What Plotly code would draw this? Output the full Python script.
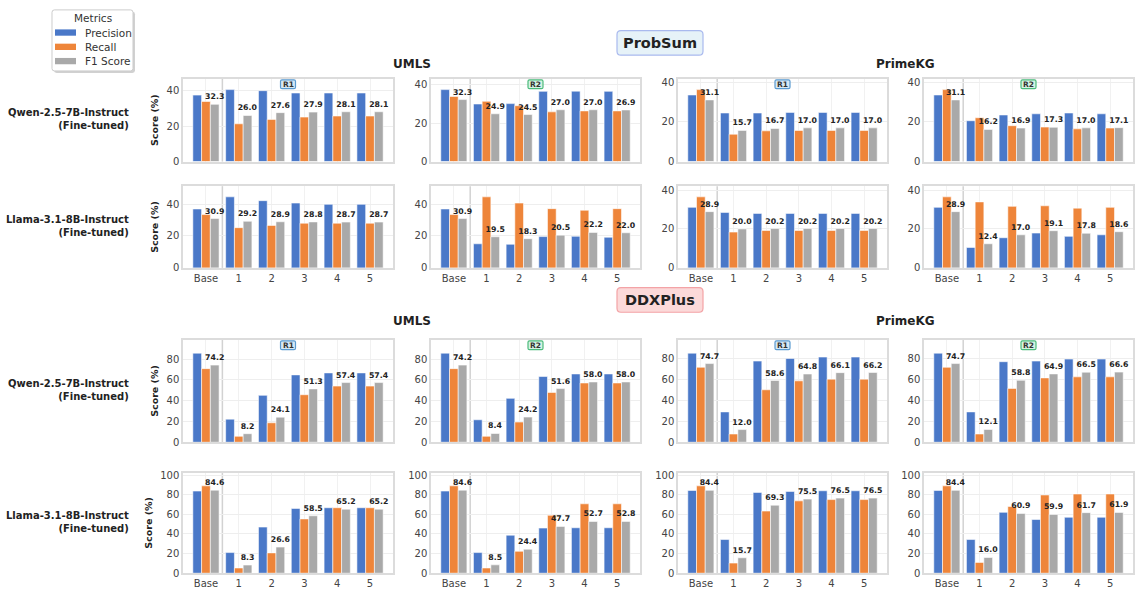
import plotly.graph_objects as go

W, H = 1138, 592
FONT = "DejaVu Sans"

groups = ["Base", "1", "2", "3", "4", "5"]
metrics = ["Precision", "Recall", "F1 Score"]
colors = ["#4a78c8", "#ee853a", "#a9a9a9"]

# ---------------- ProbSum ----------------
# Qwen-2.5-7B-Instruct, UMLS
qwen_ps_umls_r1_precision = [37.5, 40.6, 40.0, 38.7, 38.7, 38.7]
qwen_ps_umls_r1_recall = [33.9, 21.3, 23.8, 25.1, 25.7, 25.7]
qwen_ps_umls_r1_f1 = [32.3, 26.0, 27.6, 27.9, 28.1, 28.1]
qwen_ps_umls_r2_precision = [37.5, 30.0, 30.2, 36.6, 36.7, 36.6]
qwen_ps_umls_r2_recall = [33.9, 31.4, 29.1, 25.9, 26.4, 26.4]
qwen_ps_umls_r2_f1 = [32.3, 24.9, 24.5, 27.0, 27.0, 26.9]
# Qwen-2.5-7B-Instruct, PrimeKG
qwen_ps_pkg_r1_precision = [33.6, 24.5, 24.5, 24.8, 24.8, 24.8]
qwen_ps_pkg_r1_recall = [36.3, 13.8, 15.5, 15.7, 15.7, 15.7]
qwen_ps_pkg_r1_f1 = [31.1, 15.7, 16.7, 17.0, 17.0, 17.0]
qwen_ps_pkg_r2_precision = [33.6, 20.6, 23.5, 24.1, 24.5, 24.1]
qwen_ps_pkg_r2_recall = [36.3, 22.1, 18.1, 17.4, 16.5, 16.9]
qwen_ps_pkg_r2_f1 = [31.1, 16.2, 16.9, 17.3, 17.0, 17.1]
# Llama-3.1-8B-Instruct, UMLS
llama_ps_umls_r1_precision = [36.9, 44.5, 42.1, 40.6, 39.8, 39.8]
llama_ps_umls_r1_recall = [33.4, 25.2, 26.6, 28.0, 28.0, 28.0]
llama_ps_umls_r1_f1 = [30.9, 29.2, 28.9, 28.8, 28.7, 28.7]
llama_ps_umls_r2_precision = [36.9, 15.1, 14.8, 19.6, 19.8, 19.2]
llama_ps_umls_r2_recall = [33.4, 44.5, 40.6, 37.1, 36.1, 37.1]
llama_ps_umls_r2_f1 = [30.9, 19.5, 18.3, 20.5, 22.2, 22.0]
# Llama-3.1-8B-Instruct, PrimeKG
llama_ps_pkg_r1_precision = [31.1, 28.5, 28.0, 28.0, 28.0, 28.0]
llama_ps_pkg_r1_recall = [36.5, 18.4, 19.2, 19.2, 19.2, 19.2]
llama_ps_pkg_r1_f1 = [28.9, 20.0, 20.2, 20.2, 20.2, 20.2]
llama_ps_pkg_r2_precision = [31.1, 10.5, 15.5, 17.9, 16.2, 17.0]
llama_ps_pkg_r2_recall = [36.5, 33.9, 31.6, 31.9, 30.7, 31.1]
llama_ps_pkg_r2_f1 = [28.9, 12.4, 17.0, 19.1, 17.8, 18.6]

# ---------------- DDXPlus ----------------
qwen_dx_umls_r1_precision = [85.7, 22.2, 45.1, 64.8, 66.7, 66.7]
qwen_dx_umls_r1_recall = [70.8, 5.7, 18.7, 45.7, 54.0, 54.0]
qwen_dx_umls_r1_f1 = [74.2, 8.2, 24.1, 51.3, 57.4, 57.4]
qwen_dx_umls_r2_precision = [85.7, 21.6, 42.2, 63.2, 65.7, 65.7]
qwen_dx_umls_r2_recall = [70.8, 5.7, 19.4, 47.9, 57.0, 57.0]
qwen_dx_umls_r2_f1 = [74.2, 8.4, 24.2, 51.6, 58.0, 58.0]
qwen_dx_pkg_r1_precision = [84.6, 28.8, 77.1, 79.6, 80.9, 80.9]
qwen_dx_pkg_r1_recall = [71.2, 7.8, 49.8, 58.3, 59.9, 59.9]
qwen_dx_pkg_r1_f1 = [74.7, 12.0, 58.6, 64.8, 66.1, 66.2]
qwen_dx_pkg_r2_precision = [84.6, 28.8, 76.5, 77.1, 79.0, 79.0]
qwen_dx_pkg_r2_recall = [71.2, 7.8, 51.1, 61.1, 62.1, 62.1]
qwen_dx_pkg_r2_f1 = [74.7, 12.1, 58.8, 64.9, 66.5, 66.6]
llama_dx_umls_r1_precision = [83.7, 21.0, 47.0, 66.0, 66.7, 66.7]
llama_dx_umls_r1_recall = [89.0, 5.3, 20.7, 55.3, 66.7, 66.7]
llama_dx_umls_r1_f1 = [84.6, 8.3, 26.6, 58.5, 65.2, 65.2]
llama_dx_umls_r2_precision = [83.7, 21.0, 38.7, 46.0, 46.3, 46.3]
llama_dx_umls_r2_recall = [89.0, 5.3, 22.3, 59.0, 70.7, 70.7]
llama_dx_umls_r2_f1 = [84.6, 8.5, 24.4, 47.7, 52.7, 52.8]
llama_dx_pkg_r1_precision = [84.3, 34.3, 82.3, 83.3, 84.0, 84.0]
llama_dx_pkg_r1_recall = [89.0, 10.3, 63.3, 73.7, 75.0, 75.0]
llama_dx_pkg_r1_f1 = [84.4, 15.7, 69.3, 75.5, 76.5, 76.5]
llama_dx_pkg_r2_precision = [84.3, 34.3, 62.0, 54.7, 57.0, 57.0]
llama_dx_pkg_r2_recall = [89.0, 11.0, 68.0, 79.7, 80.7, 80.7]
llama_dx_pkg_r2_f1 = [84.4, 16.0, 60.9, 59.9, 61.7, 61.9]

# grid of panels: rows top-to-bottom, columns left-to-right
panel_rows = [
    [
        (qwen_ps_umls_r1_precision, qwen_ps_umls_r1_recall, qwen_ps_umls_r1_f1, "R1"),
        (qwen_ps_umls_r2_precision, qwen_ps_umls_r2_recall, qwen_ps_umls_r2_f1, "R2"),
        (qwen_ps_pkg_r1_precision, qwen_ps_pkg_r1_recall, qwen_ps_pkg_r1_f1, "R1"),
        (qwen_ps_pkg_r2_precision, qwen_ps_pkg_r2_recall, qwen_ps_pkg_r2_f1, "R2"),
    ],
    [
        (llama_ps_umls_r1_precision, llama_ps_umls_r1_recall, llama_ps_umls_r1_f1, None),
        (llama_ps_umls_r2_precision, llama_ps_umls_r2_recall, llama_ps_umls_r2_f1, None),
        (llama_ps_pkg_r1_precision, llama_ps_pkg_r1_recall, llama_ps_pkg_r1_f1, None),
        (llama_ps_pkg_r2_precision, llama_ps_pkg_r2_recall, llama_ps_pkg_r2_f1, None),
    ],
    [
        (qwen_dx_umls_r1_precision, qwen_dx_umls_r1_recall, qwen_dx_umls_r1_f1, "R1"),
        (qwen_dx_umls_r2_precision, qwen_dx_umls_r2_recall, qwen_dx_umls_r2_f1, "R2"),
        (qwen_dx_pkg_r1_precision, qwen_dx_pkg_r1_recall, qwen_dx_pkg_r1_f1, "R1"),
        (qwen_dx_pkg_r2_precision, qwen_dx_pkg_r2_recall, qwen_dx_pkg_r2_f1, "R2"),
    ],
    [
        (llama_dx_umls_r1_precision, llama_dx_umls_r1_recall, llama_dx_umls_r1_f1, None),
        (llama_dx_umls_r2_precision, llama_dx_umls_r2_recall, llama_dx_umls_r2_f1, None),
        (llama_dx_pkg_r1_precision, llama_dx_pkg_r1_recall, llama_dx_pkg_r1_f1, None),
        (llama_dx_pkg_r2_precision, llama_dx_pkg_r2_recall, llama_dx_pkg_r2_f1, None),
    ],
]
row_labels = [
    "Qwen-2.5-7B-Instruct<br>(Fine-tuned)",
    "Llama-3.1-8B-Instruct<br>(Fine-tuned)",
    "Qwen-2.5-7B-Instruct<br>(Fine-tuned)",
    "Llama-3.1-8B-Instruct<br>(Fine-tuned)",
]

# panel boxes in pixels
col_px = [(183, 393), (431, 640), (678, 887), (924, 1133)]
row_px = [(77, 161), (186, 269), (342, 446), (477, 579)]


def px(x):
    return x / W


def py(y):
    return 1 - y / H


def rrect(x0, y0, x1, y1, r):
    pts = [
        ("M", x0 + r, y0), ("L", x1 - r, y0), ("Q", x1, y0, x1, y0 + r),
        ("L", x1, y1 - r), ("Q", x1, y1, x1 - r, y1), ("L", x0 + r, y1),
        ("Q", x0, y1, x0, y1 - r), ("L", x0, y0 + r), ("Q", x0, y0, x0 + r, y0),
    ]
    out = []
    for p in pts:
        cmd = p[0]
        coords = p[1:]
        s = cmd
        for i in range(0, len(coords), 2):
            s += f" {px(coords[i]):.5f},{py(coords[i + 1]):.5f}"
        out.append(s)
    return " ".join(out) + " Z"


fig = go.Figure()
layout = dict(
    width=W, height=H,
    margin=dict(l=0, r=0, t=0, b=0),
    paper_bgcolor="white", plot_bgcolor="white",
    barmode="group", bargap=0.2, bargroupgap=0,
    showlegend=False,
    font=dict(family=FONT, color="#333333"),
)
shapes = []
annotations = []
positions = list(range(len(groups)))

for r, row in enumerate(panel_rows):
    for c, (prec, rec, f1, badge) in enumerate(row):
        k = r * 4 + c + 1
        xs = "x" if k == 1 else f"x{k}"
        ys = "y" if k == 1 else f"y{k}"
        for m, vals in enumerate([prec, rec, f1]):
            bar = dict(
                x=positions, y=vals, name=metrics[m], xaxis=xs, yaxis=ys,
                marker=dict(color=colors[m], line=dict(color="rgba(255,255,255,0.7)", width=0.8)),
                showlegend=False, hoverinfo="skip",
            )
            if m == 2:
                bar.update(
                    text=[f"{v:.1f}" for v in vals], textposition="outside",
                    textangle=0, constraintext="none", cliponaxis=False,
                    textfont=dict(family=FONT, size=7.8, color="#222222", weight="bold"),
                )
            fig.add_trace(go.Bar(**bar))
        ymax = max(prec + rec + f1) * 1.15
        x0, x1 = col_px[c]
        y0, y1 = row_px[r]
        layout["xaxis" if k == 1 else f"xaxis{k}"] = dict(
            domain=[px(x0), px(x1)], range=[-0.7, 5.7], anchor=ys,
            tickvals=positions, ticktext=groups, showticklabels=(r in (1, 3)),
            tickfont=dict(size=10, color="#444444"), ticks="",
            showgrid=True, gridcolor="#f1f1f1", gridwidth=1,
            showline=True, mirror=True, linecolor="#dcdcdc", linewidth=1.5,
            zeroline=False, fixedrange=True,
        )
        yax = dict(
            domain=[py(y1), py(y0)], range=[0, ymax], anchor=xs,
            tick0=0, dtick=20, tickfont=dict(size=10, color="#444444"), ticks="",
            showgrid=True, gridcolor="#eeeeee", gridwidth=1,
            showline=True, mirror=True, linecolor="#dcdcdc", linewidth=1.5,
            zeroline=False, fixedrange=True,
        )
        if c == 0:
            yax["title"] = dict(text="Score (%)", standoff=6,
                                font=dict(size=9.5, color="#222222", weight="bold"))
        layout["yaxis" if k == 1 else f"yaxis{k}"] = yax

        # separator between the base model and the fine-tuned rounds
        shapes.append(dict(type="line", xref=xs, yref=f"{ys} domain",
                           x0=0.5, x1=0.5, y0=0, y1=1,
                           line=dict(color="#d2d2d2", width=1.5), layer="below"))

        if badge:
            cx = (x0 + x1) / 2
            fill, edge = ("#d6e8f4", "#5b9bd0") if badge == "R1" else ("#d4f3e2", "#4cbb7c")
            shapes.append(dict(type="path", xref="paper", yref="paper",
                               path=rrect(cx - 7.5, y0 + 1, cx + 7.5, y0 + 10, 1.5),
                               fillcolor=fill, line=dict(color=edge, width=1.2)))
            annotations.append(dict(x=px(cx), y=py(y0 + 5.5), xref="paper", yref="paper",
                                    text=badge, showarrow=False, xanchor="center", yanchor="middle",
                                    font=dict(size=7.5, color="#333333", weight="bold")))

    # model label at the left of each row
    yc = (row_px[r][0] + row_px[r][1]) / 2
    annotations.append(dict(x=px(131), y=py(yc - 1), xref="paper", yref="paper",
                            text=row_labels[r], showarrow=False, xanchor="right",
                            yanchor="middle", align="right",
                            font=dict(size=10, color="#222222", weight="bold")))

# dataset headers and knowledge-graph headings
for label, y_mid, fill, edge in [("ProbSum", 40.5, "#e6f2f8", "#a9b9ee"),
                                 ("DDXPlus", 301.5, "#fbd9d9", "#f3a3a6")]:
    shapes.append(dict(type="path", xref="paper", yref="paper",
                       path=rrect(617, y_mid - 12.5, 703, y_mid + 12.5, 4),
                       fillcolor=fill, line=dict(color=edge, width=1.2)))
    annotations.append(dict(x=px(660), y=py(y_mid), xref="paper", yref="paper",
                            text=label, showarrow=False, xanchor="center", yanchor="middle",
                            font=dict(size=14.5, color="#222222", weight="bold")))

for y_mid in (62, 323):
    for name, xc in (("UMLS", (183 + 640) / 2), ("PrimeKG", (678 + 1133) / 2)):
        annotations.append(dict(x=px(xc), y=py(y_mid), xref="paper", yref="paper",
                                text=name, showarrow=False, xanchor="center", yanchor="middle",
                                font=dict(size=12, color="#222222", weight="bold")))

# legend box
shapes.append(dict(type="path", xref="paper", yref="paper",
                   path=rrect(54, 9, 135, 71, 2.5),
                   fillcolor="rgba(0,0,0,0.18)", line=dict(width=0)))
shapes.append(dict(type="path", xref="paper", yref="paper",
                   path=rrect(52, 7, 133, 69, 2.5),
                   fillcolor="white", line=dict(color="#cccccc", width=1)))
annotations.append(dict(x=px(92.5), y=py(15.5), xref="paper", yref="paper",
                        text="Metrics", showarrow=False, xanchor="center", yanchor="middle",
                        font=dict(size=10.5, color="#333333")))
for i, (name, col) in enumerate(zip(metrics, colors)):
    yc = 30 + i * 14.5
    shapes.append(dict(type="rect", xref="paper", yref="paper",
                       x0=px(55), x1=px(76), y0=py(yc - 3.2), y1=py(yc + 3.2),
                       fillcolor=col, line=dict(width=0)))
    annotations.append(dict(x=px(83), y=py(yc), xref="paper", yref="paper",
                            text=name, showarrow=False, xanchor="left", yanchor="middle",
                            font=dict(size=10.5, color="#333333")))

layout["shapes"] = shapes
layout["annotations"] = annotations
fig.update_layout(**layout)
fig.write_html("out.html")
